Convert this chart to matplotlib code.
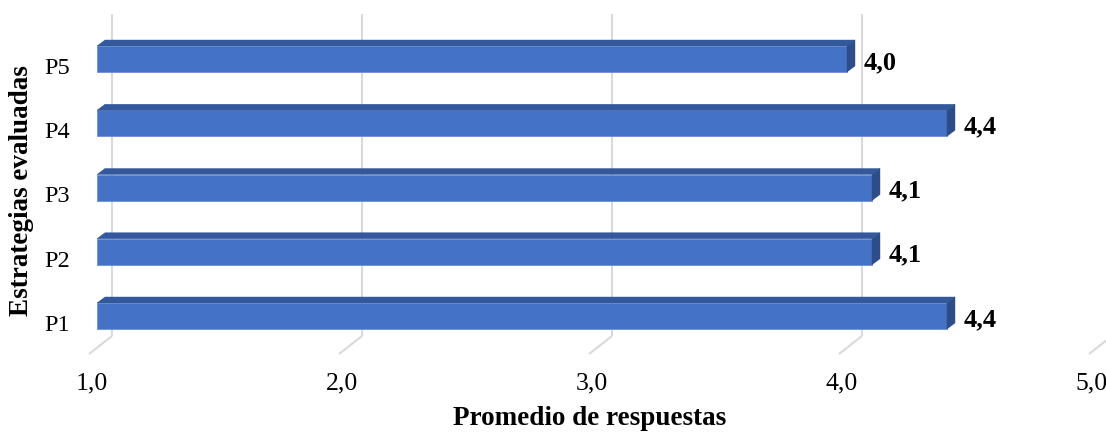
import matplotlib
matplotlib.use("Agg")
import matplotlib.pyplot as plt
from matplotlib.patches import Polygon
from matplotlib.transforms import ScaledTranslation

# ---- data ----
categories = ["P1", "P2", "P3", "P4", "P5"]
values = [4.4, 4.1, 4.1, 4.4, 4.0]
x_ticks = [1.0, 2.0, 3.0, 4.0, 5.0]
x_tick_labels = ["1,0", "2,0", "3,0", "4,0", "5,0"]
value_labels = ["4,4", "4,1", "4,1", "4,4", "4,0"]
x_title = "Promedio de respuestas"
y_title = "Estrategias evaluadas"

plt.rcParams['font.family'] = ['Liberation Serif', 'DejaVu Serif']

W, H, DPI = 1106, 435, 100
fig = plt.figure(figsize=(W / DPI, H / DPI), dpi=DPI)
fig.patch.set_facecolor("white")

# axes in pixel terms
ax_l, ax_r, ax_t, ax_b = 90, 1106, 10, 362
ax = fig.add_axes([ax_l / W, 1 - ax_b / H, (ax_r - ax_l) / W, (ax_b - ax_t) / H])
px_per_x = 250.0
px_per_y = 64.25
x0_px = 97.0     # pixel of value 1.0 at bar front plane
y0_px = 317.0    # pixel of first category center
ax.set_xlim(1 + (ax_l - x0_px) / px_per_x, 1 + (ax_r - x0_px) / px_per_x)
ax.set_ylim((y0_px - ax_b) / px_per_y, (y0_px - ax_t) / px_per_y)
for s in ax.spines.values():
    s.set_visible(False)
ax.set_facecolor("none")

def ux(px):
    return px / px_per_x

def uy(px):
    return px / px_per_y

# ---- back wall grid and floor lines ----
grid_c = "#d9d9d9"
back_dx = ux(15)
front_dx = ux(-8)
y_top = uy(y0_px - 15)
y_floor_back = uy(y0_px - 337)
y_floor_front = uy(y0_px - 355)
for xv in x_ticks:
    ax.plot([xv + back_dx, xv + back_dx], [y_floor_back, y_top], color=grid_c,
            lw=1.5, zorder=1, clip_on=False, solid_capstyle="butt")
    ax.plot([xv + back_dx, xv + front_dx], [y_floor_back, y_floor_front], color=grid_c,
            lw=1.5, zorder=1, clip_on=False, solid_capstyle="butt")

# ---- 3D bars ----
front_c = "#4472C4"
top_c = "#34589c"
side_c = "#2c4d89"
h = uy(26)
dx = ux(8)
dy = uy(6)
ypos = list(range(len(categories)))
base = 1.0
for yi, v in zip(ypos, values):
    bot = yi - h / 2
    top = yi + h / 2
    ax.barh(yi, v - base, left=base, height=h, color=front_c,
            edgecolor="#6f8fd0", linewidth=0.6, zorder=3)
    ax.add_patch(Polygon([(base, top), (base + dx, top + dy), (v + dx, top + dy), (v, top)],
                         closed=True, facecolor=top_c, edgecolor=top_c, lw=0.3, zorder=3))
    ax.add_patch(Polygon([(v, bot), (v, top), (v + dx, top + dy), (v + dx, bot + dy)],
                         closed=True, facecolor=side_c, edgecolor=side_c, lw=0.3, zorder=3))

# value labels
for yi, v, lab in zip(ypos, values, value_labels):
    ax.text(v + ux(17), yi, lab, ha="left", va="center_baseline", fontsize=19,
            fontweight="bold", color="black", zorder=5)

# ---- ticks ----
ax.set_xticks(x_ticks)
ax.set_xticklabels(x_tick_labels, fontsize=18.5)
ax.set_yticks(ypos)
ax.set_yticklabels(categories, fontsize=17.5)
ax.tick_params(axis="x", length=0, pad=7.5)
ax.tick_params(axis="y", length=0, pad=14.4)
for lab in ax.get_yticklabels():
    lab.set_transform(lab.get_transform() + ScaledTranslation(0, -6 / DPI, fig.dpi_scale_trans))
for lab in ax.get_xticklabels():
    lab.set_transform(lab.get_transform() + ScaledTranslation(-5 / DPI, 0, fig.dpi_scale_trans))
    lab.set_clip_on(False)

# ---- axis titles ----
fig.text(590 / W, 1 - 419 / H, x_title, ha="center", va="center", fontsize=19.5,
         fontweight="bold")
fig.text(22 / W, 1 - 191 / H, y_title, ha="center", va="center", rotation=90,
         fontsize=19.5, fontweight="bold")

fig.savefig("out.png", dpi=DPI, facecolor="white")
